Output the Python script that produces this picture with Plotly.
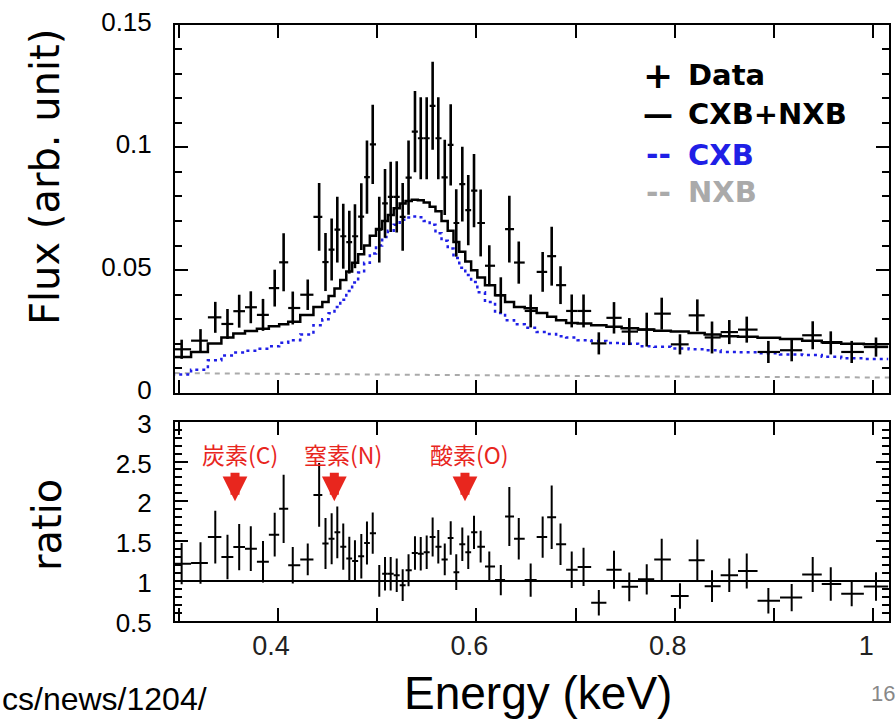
import plotly.graph_objects as go

# ---------------- data ----------------
energy = [0.3029, 0.3219, 0.3368, 0.3491, 0.3609, 0.3726, 0.3849, 0.3967, 0.4057, 0.4149,
          0.4300, 0.4415, 0.4479, 0.4541, 0.4598, 0.4658, 0.4719, 0.4776, 0.4840, 0.4897,
          0.4955, 0.5021, 0.5079, 0.5136, 0.5197, 0.5257, 0.5316, 0.5381, 0.5439, 0.5499,
          0.5559, 0.5616, 0.5681, 0.5741, 0.5797, 0.5858, 0.5918, 0.5976, 0.6043, 0.6130,
          0.6246, 0.6332, 0.6427, 0.6547, 0.6668, 0.6759, 0.6848, 0.6961, 0.7080, 0.7234,
          0.7387, 0.7541, 0.7717, 0.7868, 0.8052, 0.8227, 0.8375, 0.8549, 0.8725, 0.8943,
          0.9178, 0.9390, 0.9572, 0.9783, 1.0028]

flux = [0.0178, 0.0213, 0.0308, 0.0281, 0.0333, 0.0349, 0.0318, 0.0427, 0.0532, 0.0346,
        0.0400, 0.0717, 0.0533, 0.0584, 0.0665, 0.0638, 0.0614, 0.0638, 0.0718, 0.0879,
        0.1012, 0.0665, 0.0772, 0.0798, 0.0798, 0.0717, 0.0877, 0.1064, 0.1037, 0.1037,
        0.1169, 0.1037, 0.0878, 0.1010, 0.0692, 0.0850, 0.0744, 0.0824, 0.0692, 0.0518,
        0.0398, 0.0667, 0.0531, 0.0334, 0.0493, 0.0557, 0.0439, 0.0334, 0.0334, 0.0202,
        0.0306, 0.0250, 0.0258, 0.0323, 0.0198, 0.0316, 0.0226, 0.0248, 0.0258, 0.0167,
        0.0174, 0.0235, 0.0204, 0.0167, 0.0187]

flux_err = [0.0039, 0.0047, 0.0063, 0.0061, 0.0067, 0.0065, 0.0065, 0.0075, 0.0118, 0.0067,
            0.0062, 0.0138, 0.0118, 0.0126, 0.0134, 0.0132, 0.0128, 0.0130, 0.0136, 0.0149,
            0.0161, 0.0134, 0.0140, 0.0143, 0.0145, 0.0138, 0.0151, 0.0165, 0.0167, 0.0167,
            0.0179, 0.0167, 0.0153, 0.0165, 0.0137, 0.0152, 0.0143, 0.0149, 0.0136, 0.0083,
            0.0073, 0.0136, 0.0086, 0.0067, 0.0081, 0.0120, 0.0077, 0.0067, 0.0067, 0.0045,
            0.0064, 0.0055, 0.0069, 0.0065, 0.0041, 0.0065, 0.0065, 0.0049, 0.0053, 0.0045,
            0.0045, 0.0057, 0.0047, 0.0045, 0.0039]

model_total = [0.0147, 0.0167, 0.0201, 0.0226, 0.0242, 0.0252, 0.0262, 0.0272, 0.0280, 0.0290,
               0.0318, 0.0350, 0.0370, 0.0395, 0.0425, 0.0460, 0.0495, 0.0530, 0.0565, 0.0600,
               0.0640, 0.0668, 0.0700, 0.0725, 0.0752, 0.0771, 0.0782, 0.0787, 0.0785, 0.0775,
               0.0758, 0.0740, 0.0700, 0.0660, 0.0615, 0.0575, 0.0535, 0.0500, 0.0470, 0.0439,
               0.0398, 0.0370, 0.0350, 0.0345, 0.0326, 0.0310, 0.0296, 0.0285, 0.0283, 0.0276,
               0.0270, 0.0264, 0.0258, 0.0253, 0.0250, 0.0244, 0.0238, 0.0231, 0.0229, 0.0225,
               0.0220, 0.0213, 0.0207, 0.0200, 0.0198]

model_cxb = [0.0075, 0.0095, 0.0133, 0.0153, 0.0165, 0.0172, 0.0180, 0.0190, 0.0205, 0.0215,
             0.0238, 0.0276, 0.0300, 0.0325, 0.0350, 0.0380, 0.0415, 0.0450, 0.0490, 0.0530,
             0.0568, 0.0600, 0.0635, 0.0660, 0.0685, 0.0705, 0.0714, 0.0718, 0.0715, 0.0700,
             0.0685, 0.0650, 0.0620, 0.0588, 0.0550, 0.0510, 0.0480, 0.0452, 0.0410, 0.0370,
             0.0326, 0.0296, 0.0280, 0.0266, 0.0248, 0.0240, 0.0231, 0.0226, 0.0215, 0.0212,
             0.0204, 0.0200, 0.0190, 0.0188, 0.0181, 0.0178, 0.0174, 0.0167, 0.0166, 0.0162,
             0.0157, 0.0155, 0.0148, 0.0141, 0.0138]

nxb_energy = [0.296, 0.50, 0.654, 0.79, 1.016]
nxb_flux = [0.0081, 0.0075, 0.0068, 0.0067, 0.0063]

ratio = [1.217, 1.225, 1.55, 1.30, 1.425, 1.405, 1.24, 1.58, 1.905, 1.196,
         1.27, 2.08, 1.47, 1.53, 1.61, 1.43, 1.28, 1.25, 1.31, 1.475,
         1.60, 1.00, 1.09, 1.09, 1.07, 0.946, 1.134, 1.35, 1.34, 1.36,
         1.55, 1.43, 1.27, 1.54, 1.11, 1.46, 1.36, 1.61, 1.43, 1.18,
         1.01, 1.81, 1.53, 1.01, 1.55, 1.80, 1.46, 1.14, 1.175, 0.725,
         1.14, 0.925, 1.02, 1.27, 0.81, 1.26, 0.934, 1.07, 1.125, 0.75,
         0.79, 1.08, 0.96, 0.84, 0.93]

ratio_err = [0.26, 0.26, 0.33, 0.28, 0.29, 0.28, 0.26, 0.275, 0.43, 0.23,
             0.20, 0.40, 0.32, 0.32, 0.325, 0.29, 0.275, 0.26, 0.28, 0.27,
             0.26, 0.20, 0.21, 0.21, 0.21, 0.20, 0.20, 0.21, 0.21, 0.21,
             0.245, 0.21, 0.20, 0.21, 0.225, 0.21, 0.21, 0.21, 0.20, 0.19,
             0.19, 0.37, 0.26, 0.21, 0.26, 0.40, 0.26, 0.23, 0.24, 0.16,
             0.24, 0.18, 0.19, 0.26, 0.16, 0.26, 0.20, 0.21, 0.22, 0.16,
             0.17, 0.22, 0.21, 0.16, 0.18]

element_labels = ["炭素(C)", "窒素(N)", "酸素(O)"]
element_label_x = [0.3617, 0.4655, 0.5935]
element_arrow_x = [0.3567, 0.4568, 0.5885]

x_ticks = [0.3, 0.4, 0.5, 0.6, 0.7, 0.8, 0.9, 1.0]
x_ticktext = ["", "0.4", "", "0.6", "", "0.8", "", "1"]
flux_ticks = [0, 0.05, 0.1, 0.15]
flux_ticktext = ["0", "0.05", "0.1", "0.15"]
ratio_ticks = [0.5, 1, 1.5, 2, 2.5, 3]
ratio_ticktext = ["0.5", "1", "1.5", "2", "2.5", "3"]

# ---------------- derived bin geometry ----------------
n = len(energy)
edges = ([energy[0] - (energy[1] - energy[0]) / 2]
         + [(a + b) / 2 for a, b in zip(energy[:-1], energy[1:])]
         + [energy[-1] + (energy[-1] - energy[-2]) / 2])
xplus = [edges[i + 1] - energy[i] for i in range(n)]
xminus = [energy[i] - edges[i] for i in range(n)]

W, H = 896, 719
def px(x):
    return x / W
def py(y):
    return 1 - y / H

X_RANGE = [0.2962, 1.0159]
BLUE = "#1f1fe6"
GRAY = "#aaaaaa"
RED = "#e8261e"
AX_FONT = "Liberation Sans, Arial, sans-serif"
TITLE_FONT = "DejaVu Sans, Verdana, sans-serif"
NARROW_FONT = "Liberation Sans Narrow, Liberation Sans, sans-serif"

fig = go.Figure()

# NXB
fig.add_trace(go.Scatter(x=nxb_energy, y=nxb_flux, mode="lines",
                         line=dict(color=GRAY, width=2, dash="5px,5px"),
                         xaxis="x", yaxis="y", showlegend=False))
# CXB
fig.add_trace(go.Scatter(x=edges, y=model_cxb + [model_cxb[-1]], mode="lines",
                         line=dict(color=BLUE, width=2.5, dash="3px,4px", shape="hv"),
                         xaxis="x", yaxis="y", showlegend=False))
# CXB+NXB
fig.add_trace(go.Scatter(x=edges, y=model_total + [model_total[-1]], mode="lines",
                         line=dict(color="black", width=2.5, shape="hv"),
                         xaxis="x", yaxis="y", showlegend=False))
# Data
fig.add_trace(go.Scatter(x=energy, y=flux, mode="markers",
                         marker=dict(size=1, color="black"),
                         error_x=dict(type="data", symmetric=False, array=xplus, arrayminus=xminus,
                                      color="black", thickness=2.2, width=0),
                         error_y=dict(type="data", array=flux_err, color="black",
                                      thickness=2.6, width=0),
                         xaxis="x", yaxis="y", showlegend=False))
# Ratio
fig.add_trace(go.Scatter(x=energy, y=ratio, mode="markers",
                         marker=dict(size=1, color="black"),
                         error_x=dict(type="data", symmetric=False, array=xplus, arrayminus=xminus,
                                      color="black", thickness=2, width=0),
                         error_y=dict(type="data", array=ratio_err, color="black",
                                      thickness=2, width=0),
                         xaxis="x2", yaxis="y2", showlegend=False))

fig.add_shape(type="line", xref="x2 domain", yref="y2", x0=0, x1=1, y0=1, y1=1,
              line=dict(color="black", width=2))

xdom = [px(175), px(889)]
common_x = dict(range=X_RANGE, showgrid=False, zeroline=False, showline=True,
                linecolor="black", linewidth=2, mirror="ticks", ticks="inside",
                ticklen=13, tickwidth=2, tickcolor="black", tickvals=x_ticks,
                ticktext=x_ticktext, domain=xdom, automargin=False)
common_y = dict(showgrid=False, zeroline=False, showline=True, linecolor="black",
                linewidth=2, mirror="ticks", ticks="inside", ticklen=13, tickwidth=2,
                tickcolor="black", tickfont=dict(family=AX_FONT, size=26, color="black"),
                ticklabelstandoff=16, automargin=False)

fig.update_layout(
    width=W, height=H, margin=dict(l=0, r=0, t=0, b=0, autoexpand=False),
    paper_bgcolor="white", plot_bgcolor="white", showlegend=False,
    xaxis=dict(**common_x, anchor="y", showticklabels=False),
    yaxis=dict(**common_y, domain=[py(393), py(24.5)], range=[0, 0.15],
               tickvals=flux_ticks, ticktext=flux_ticktext, ticklabelshift=-3,
               minor=dict(ticks="inside", ticklen=7, tickwidth=1.5, tickcolor="black",
                          dtick=0.01, tick0=0, showgrid=False)),
    xaxis2=dict(**common_x, anchor="y2",
                tickfont=dict(family=NARROW_FONT, size=27, color="#222222"),
                ticklabelshift=-7, ticklabelstandoff=0),
    yaxis2=dict(**common_y, domain=[py(620.7), py(421.7)], range=[0.5, 3],
                tickvals=ratio_ticks, ticktext=ratio_ticktext, ticklabelshift=2,
                minor=dict(ticks="inside", ticklen=7, tickwidth=1.5, tickcolor="black",
                           dtick=0.1, tick0=0.5, showgrid=False)),
)

ann = []
# axis titles
ann.append(dict(text="Flux (arb. unit)", x=px(45), y=py(177), xref="paper", yref="paper",
                textangle=-90, showarrow=False, xanchor="center", yanchor="middle",
                font=dict(family=TITLE_FONT, size=40, color="black")))
ann.append(dict(text="ratio", x=px(47), y=py(525), xref="paper", yref="paper",
                textangle=-90, showarrow=False, xanchor="center", yanchor="middle",
                font=dict(family=TITLE_FONT, size=40, color="black")))
ann.append(dict(text="Energy (keV)", x=px(538), y=py(693), xref="paper", yref="paper",
                showarrow=False, xanchor="center", yanchor="middle",
                font=dict(family=NARROW_FONT, size=46, color="black")))
# slide remnants
ann.append(dict(text="16", x=px(883), y=py(693), xref="paper", yref="paper",
                showarrow=False, xanchor="center", yanchor="middle",
                font=dict(family=NARROW_FONT, size=22, color="#888888")))
ann.append(dict(text="cs/news/1204/", x=0, y=0, xref="paper", yref="paper",
                showarrow=False, xanchor="left", yanchor="bottom",
                font=dict(family=NARROW_FONT, size=32, color="black")))

# legend (text glyphs as on the slide)
LEG = dict(family="DejaVu Sans, Verdana, sans-serif", size=29)
legend_rows = [("+", "Data", "black", 75), ("—", "CXB+NXB", "black", 114),
               ("--", "CXB", BLUE, 155), ("--", "NXB", GRAY, 192)]
for sym, lab, col, yy in legend_rows:
    ann.append(dict(text="<b>%s</b>" % sym, x=px(658), y=py(yy), xref="paper", yref="paper",
                    showarrow=False, xanchor="center", yanchor="middle",
                    font=dict(LEG, color=col, size=36 if sym == "+" else 30)))
    ann.append(dict(text="<b>%s</b>" % lab, x=px(686), y=py(yy), xref="paper", yref="paper",
                    showarrow=False, xanchor="left", yanchor="middle",
                    font=dict(LEG, color=col)))

# element labels and arrows
for lab, lx, axx in zip(element_labels, element_label_x, element_arrow_x):
    ann.append(dict(text=lab, x=lx, y=2.6, xref="x2", yref="y2", showarrow=False,
                    xanchor="center", yanchor="middle",
                    font=dict(family="Noto Sans CJK JP", size=23, color=RED)))
    ann.append(dict(text="", x=axx, y=2.0, xref="x2", yref="y2", showarrow=True,
                    ax=0, ay=-30, arrowhead=2, arrowsize=0.55, arrowwidth=9,
                    arrowcolor=RED, standoff=0))

fig.update_layout(annotations=ann)
fig.write_html("out.html")
